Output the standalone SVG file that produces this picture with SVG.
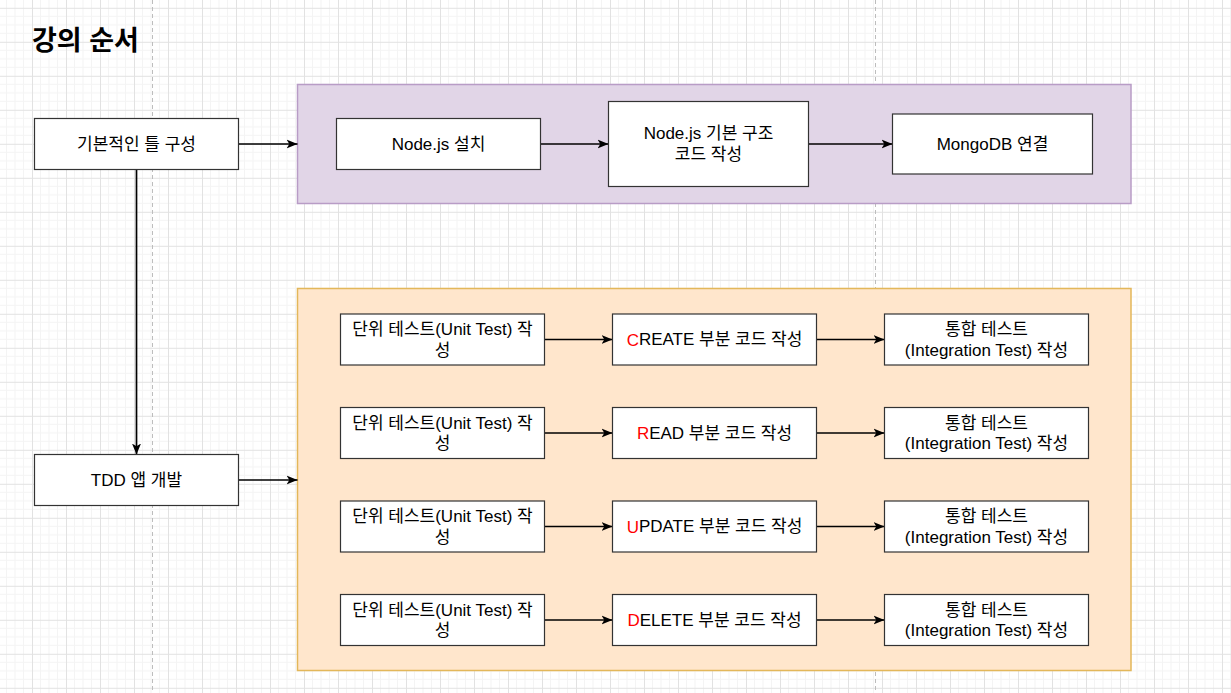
<svg xmlns="http://www.w3.org/2000/svg" width="1231" height="693" viewBox="0 0 1231 693">
<style>
text{font-family:"Liberation Sans","Noto Sans CJK KR",sans-serif;font-size:17px;fill:#000;text-anchor:middle;dominant-baseline:central}
.box{fill:#fff;stroke:#333;stroke-width:1.2}
.edge{stroke:#000;stroke-width:1.7;fill:none;marker-end:url(#arr)}
.red{fill:#ff0000}
</style>
<defs>
<pattern id="grid" x="-2" y="7.8" width="34" height="34" patternUnits="userSpaceOnUse">
<rect x="8" y="0" width="1" height="34" fill="#f4f4f4"/>
<rect x="16.5" y="0" width="1" height="34" fill="#f4f4f4"/>
<rect x="25" y="0" width="1" height="34" fill="#f4f4f4"/>
<rect x="0" y="8" width="34" height="1" fill="#f4f4f4"/>
<rect x="0" y="16.5" width="34" height="1" fill="#f4f4f4"/>
<rect x="0" y="25" width="34" height="1" fill="#f4f4f4"/>
<rect x="0" y="0" width="1" height="34" fill="#e2e2e2"/>
<rect x="0" y="0" width="34" height="1" fill="#e2e2e2"/>
</pattern>
<marker id="arr" markerUnits="userSpaceOnUse" markerWidth="12" markerHeight="10" refX="11" refY="5" orient="auto" viewBox="0 0 12 10">
<path d="M0,0.5 L11,5 L0,9.5 L2.8,5 Z" fill="#000"/>
</marker>
</defs>
<g id="background">
<rect width="1231" height="693" fill="#fff"/>
<rect width="1231" height="693" fill="url(#grid)"/>
<line x1="152.5" y1="0" x2="152.5" y2="693" stroke="#bdbdbd" stroke-dasharray="4 3"/>
<line x1="875.5" y1="0" x2="875.5" y2="693" stroke="#bdbdbd" stroke-dasharray="4 3"/>
</g>
<g id="title"><text x="32" y="41" style="font-size:27px;font-weight:bold;text-anchor:start">강의 순서</text></g>
<g id="container-setup"><rect x="297.5" y="84.5" width="833.5" height="119" fill="#e1d5e7" stroke="#b89cc6" stroke-width="1.5"/></g>
<g id="container-tdd"><rect x="297.5" y="288.5" width="833.5" height="382" fill="#ffe6cc" stroke="#e3b75a" stroke-width="1.5"/></g>
<g id="connectors">
<line class="edge" x1="238.5" y1="144" x2="297.5" y2="144"/>
<line class="edge" x1="540.5" y1="144" x2="608.5" y2="144"/>
<line class="edge" x1="808.5" y1="144" x2="892.5" y2="144"/>
<line class="edge" x1="136.5" y1="169.5" x2="136.5" y2="454.5"/>
<line class="edge" x1="238.5" y1="480" x2="297.5" y2="480"/>
<line class="edge" x1="544.5" y1="339.5" x2="612.5" y2="339.5"/>
<line class="edge" x1="816.5" y1="339.5" x2="884.5" y2="339.5"/>
<line class="edge" x1="544.5" y1="433" x2="612.5" y2="433"/>
<line class="edge" x1="816.5" y1="433" x2="884.5" y2="433"/>
<line class="edge" x1="544.5" y1="526.5" x2="612.5" y2="526.5"/>
<line class="edge" x1="816.5" y1="526.5" x2="884.5" y2="526.5"/>
<line class="edge" x1="544.5" y1="620" x2="612.5" y2="620"/>
<line class="edge" x1="816.5" y1="620" x2="884.5" y2="620"/>
</g>
<g id="basic"><rect class="box" x="34.5" y="118.5" width="204" height="51"/><text x="136.5" y="144">기본적인 틀 구성</text></g>
<g id="tdd"><rect class="box" x="34.5" y="454.5" width="204" height="51"/><text x="136.5" y="480">TDD 앱 개발</text></g>
<g id="node-install"><rect class="box" x="336.5" y="118.5" width="204" height="51"/><text x="438.5" y="144">Node.js 설치</text></g>
<g id="node-struct"><rect class="box" x="608.5" y="101.5" width="200" height="85"/><text x="708.5" y="133.5">Node.js 기본 구조</text><text x="708.5" y="154">코드 작성</text></g>
<g id="mongo"><rect class="box" x="892.5" y="114" width="200" height="60"/><text x="992.5" y="144">MongoDB 연결</text></g>

<g id="unit1"><rect class="box" x="340.5" y="314" width="204" height="51"/><text x="442.5" y="329.5">단위 테스트(Unit Test) 작</text><text x="442.5" y="350">성</text></g>
<g id="create"><rect class="box" x="612.5" y="314" width="204" height="51"/><text x="714.5" y="339.5"><tspan class="red">C</tspan>REATE 부분 코드 작성</text></g>
<g id="int1"><rect class="box" x="884.5" y="314" width="204" height="51"/><text x="986.5" y="329.5">통합 테스트</text><text x="986.5" y="350">(Integration Test) 작성</text></g>

<g id="unit2"><rect class="box" x="340.5" y="407.5" width="204" height="51"/><text x="442.5" y="423">단위 테스트(Unit Test) 작</text><text x="442.5" y="443.5">성</text></g>
<g id="read"><rect class="box" x="612.5" y="407.5" width="204" height="51"/><text x="714.5" y="433"><tspan class="red">R</tspan>EAD 부분 코드 작성</text></g>
<g id="int2"><rect class="box" x="884.5" y="407.5" width="204" height="51"/><text x="986.5" y="423">통합 테스트</text><text x="986.5" y="443.5">(Integration Test) 작성</text></g>

<g id="unit3"><rect class="box" x="340.5" y="501" width="204" height="51"/><text x="442.5" y="516.5">단위 테스트(Unit Test) 작</text><text x="442.5" y="537">성</text></g>
<g id="update"><rect class="box" x="612.5" y="501" width="204" height="51"/><text x="714.5" y="526.5"><tspan class="red">U</tspan>PDATE 부분 코드 작성</text></g>
<g id="int3"><rect class="box" x="884.5" y="501" width="204" height="51"/><text x="986.5" y="516.5">통합 테스트</text><text x="986.5" y="537">(Integration Test) 작성</text></g>

<g id="unit4"><rect class="box" x="340.5" y="594.5" width="204" height="51"/><text x="442.5" y="610">단위 테스트(Unit Test) 작</text><text x="442.5" y="630.5">성</text></g>
<g id="delete"><rect class="box" x="612.5" y="594.5" width="204" height="51"/><text x="714.5" y="620"><tspan class="red">D</tspan>ELETE 부분 코드 작성</text></g>
<g id="int4"><rect class="box" x="884.5" y="594.5" width="204" height="51"/><text x="986.5" y="610">통합 테스트</text><text x="986.5" y="630.5">(Integration Test) 작성</text></g>
</svg>
